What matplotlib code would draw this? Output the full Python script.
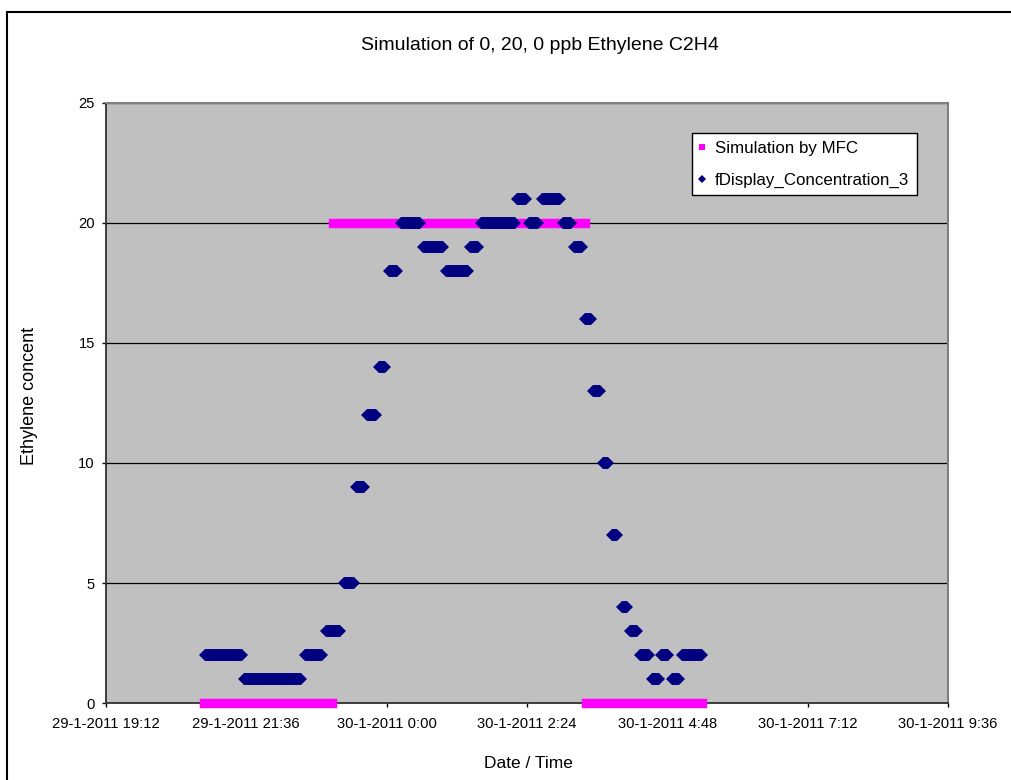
import datetime as dt
import matplotlib
matplotlib.use("Agg")
import matplotlib.pyplot as plt
import matplotlib.dates as mdates
from matplotlib.lines import Line2D
from matplotlib.patches import Rectangle

plt.rcParams['font.family'] = ['Liberation Sans', 'DejaVu Sans']

FMT = "%d-%m-%Y %H:%M"

# MFC set points: start, end, value (ppb)
mfc_start = ["29-1-2011 20:53", "29-1-2011 23:05", "30-1-2011 3:25"]
mfc_end = ["29-1-2011 23:04", "30-1-2011 3:23", "30-1-2011 5:24"]
mfc_value = [0, 20, 0]

# analyser readings, grouped in runs of equal value (first / last sample)
run_start = ["29-1-2011 20:54", "29-1-2011 21:34", "29-1-2011 22:36", "29-1-2011 22:58",
             "29-1-2011 23:16", "29-1-2011 23:29", "29-1-2011 23:40", "29-1-2011 23:52",
             "30-1-2011 0:02", "30-1-2011 0:15", "30-1-2011 0:37", "30-1-2011 1:01",
             "30-1-2011 1:26", "30-1-2011 1:37", "30-1-2011 2:14", "30-1-2011 2:26",
             "30-1-2011 2:39", "30-1-2011 3:01", "30-1-2011 3:12", "30-1-2011 3:23",
             "30-1-2011 3:32", "30-1-2011 3:42", "30-1-2011 3:51", "30-1-2011 4:01",
             "30-1-2011 4:10", "30-1-2011 4:20", "30-1-2011 4:32", "30-1-2011 4:42",
             "30-1-2011 4:53", "30-1-2011 5:03"]
run_end = ["29-1-2011 21:32", "29-1-2011 22:32", "29-1-2011 22:54", "29-1-2011 23:12",
           "29-1-2011 23:26", "29-1-2011 23:37", "29-1-2011 23:49", "29-1-2011 23:58",
           "30-1-2011 0:11", "30-1-2011 0:34", "30-1-2011 0:58", "30-1-2011 1:23",
           "30-1-2011 1:34", "30-1-2011 2:12", "30-1-2011 2:23", "30-1-2011 2:35",
           "30-1-2011 2:58", "30-1-2011 3:09", "30-1-2011 3:20", "30-1-2011 3:30",
           "30-1-2011 3:39", "30-1-2011 3:47", "30-1-2011 3:56", "30-1-2011 4:07",
           "30-1-2011 4:17", "30-1-2011 4:29", "30-1-2011 4:39", "30-1-2011 4:49",
           "30-1-2011 5:00", "30-1-2011 5:24"]
run_value = [2, 1, 2, 3, 5, 9, 12, 14, 18, 20, 19, 18, 19, 20, 21, 20, 21, 20, 19, 16,
             13, 10, 7, 4, 3, 2, 1, 2, 1, 2]

x_ticks = ["29-1-2011 19:12", "29-1-2011 21:36", "30-1-2011 0:00", "30-1-2011 2:24",
           "30-1-2011 4:48", "30-1-2011 7:12", "30-1-2011 9:36"]
y_ticks = [0, 5, 10, 15, 20, 25]

def t(s):
    return dt.datetime.strptime(s, FMT)

MAGENTA = "#FF00FF"
NAVY = "#000080"

fig = plt.figure(figsize=(10.12, 7.8), dpi=100)
ax = fig.add_axes([0.1047, 0.0987, 0.8321, 0.7693])
ax.set_facecolor("#C0C0C0")

# MFC steps drawn as thick bars (dense square markers in the original)
for s, e, v in zip(mfc_start, mfc_end, mfc_value):
    ax.plot([t(s), t(e)], [v, v], color=MAGENTA, lw=6.8, solid_capstyle="projecting",
            clip_on=False, zorder=3)

# analyser runs: diamonds at both ends joined by a bar of the same height
for s, e, v in zip(run_start, run_end, run_value):
    ax.plot([t(s), t(e)], [v, v], color=NAVY, lw=8.6, solid_capstyle="butt",
            marker="D", ms=6.1, mew=0, clip_on=False, zorder=4)

ax.set_xlim(t(x_ticks[0]), t(x_ticks[-1]))
ax.set_ylim(0, 25)
ax.set_xticks([t(s) for s in x_ticks])
ax.set_xticklabels(x_ticks)
ax.set_yticks(y_ticks)
ax.tick_params(axis="both", direction="out", length=3, width=1, color="black",
               labelsize=10.6)
ax.tick_params(axis="x", pad=7)
ax.tick_params(axis="y", pad=5)

ax.set_axisbelow(True)
ax.yaxis.grid(True, color="black", lw=0.9)
for side in ["left", "bottom"]:
    ax.spines[side].set_color("#303030")
    ax.spines[side].set_linewidth(1.3)
for side in ["top", "right"]:
    ax.spines[side].set_color("#808080")
    ax.spines[side].set_linewidth(1.5)

handles = [Line2D([], [], ls="none", marker="s", ms=5, color=MAGENTA, mew=0),
           Line2D([], [], ls="none", marker="D", ms=4.5, color=NAVY, mew=0)]
leg = ax.legend(handles, ["Simulation by MFC", "fDisplay_Concentration_3"],
                loc="upper left", bbox_to_anchor=(0.696, 0.95), borderaxespad=0,
                fontsize=12.2, handlelength=0.3, handletextpad=0.6,
                labelspacing=1.0, borderpad=0.45, fancybox=False, framealpha=1,
                edgecolor="black")
leg.get_frame().set_linewidth(1)

fig.text(0.5336, 1 - 45 / 780, "Simulation of 0, 20, 0 ppb Ethylene C2H4",
         ha="center", va="center", fontsize=14)
fig.text(0.5217, 1 - 763 / 780, "Date / Time", ha="center", va="center", fontsize=12.5)
fig.text(0.0296, 1 - 396 / 780, "Ethylene concent", ha="center", va="center",
         rotation=90, fontsize=13)

# outer chart border (runs off the right and bottom edge)
fig.patches.append(Rectangle((7 / 1012, -0.1), 1.2, 1 - 12 / 780 + 0.1,
                             transform=fig.transFigure, fill=False,
                             edgecolor="black", lw=1.5))

fig.savefig("out.png", dpi=100)
